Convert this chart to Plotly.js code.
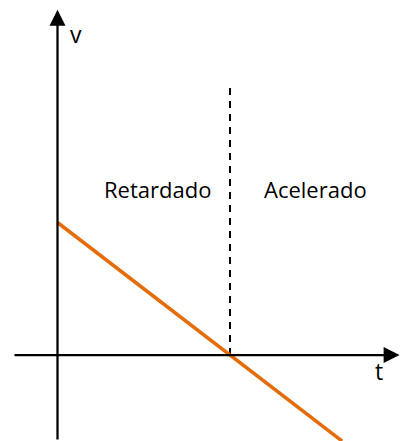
<!DOCTYPE html>
<html>
<head>
<meta charset="utf-8">
<script src="https://cdn.plot.ly/plotly-3.0.1.min.js"></script>
<style>
html,body{margin:0;padding:0;background:#fff;}
#chart{width:400px;height:441px;}
</style>
</head>
<body>
<div id="chart"></div>
<script>
// Data (schematic units): velocity decreases linearly, crossing zero at t = 1
var tValues = [0, 1.65];
var vValues = [1, -0.65];
var tStop = 1;            // instant where v = 0 (boundary between phases)
var regionLabels = ["Retardado", "Acelerado"];
var axisLabels = {t: "t", v: "v"};

var xRange = [-0.3333, 1.9855];
var yRange = [-0.649, 2.679];

var fontFam = "'Open Sans', 'Noto Sans', sans-serif";

var traces = [{
  x: tValues,
  y: vValues,
  mode: 'lines',
  type: 'scatter',
  line: {color: '#E46C0A', width: 3.5},
  hoverinfo: 'skip'
}];

var layout = {
  width: 400,
  height: 441,
  margin: {l: 0, r: 0, t: 0, b: 0, pad: 0},
  paper_bgcolor: '#ffffff',
  plot_bgcolor: '#ffffff',
  showlegend: false,
  xaxis: {range: xRange, visible: false, fixedrange: true},
  yaxis: {range: yRange, visible: false, fixedrange: true},
  shapes: [{
    type: 'line', xref: 'x', yref: 'y',
    x0: tStop, x1: tStop, y0: 0, y1: 2.02,
    line: {color: '#000', width: 2, dash: '7px,6px'},
    layer: 'below'
  }],
  annotations: [
    // vertical axis (v) with arrow
    {x: 0, y: 2.605, ax: 0, ay: yRange[0], xref: 'x', yref: 'y', axref: 'x', ayref: 'y',
     text: '', showarrow: true, arrowhead: 2, arrowsize: 1.42, arrowwidth: 2.25, arrowcolor: '#000', standoff: 0},
    // horizontal axis (t) with arrow
    {x: 1.983, y: 0, ax: -0.258, ay: 0, xref: 'x', yref: 'y', axref: 'x', ayref: 'y',
     text: '', showarrow: true, arrowhead: 2, arrowsize: 1.42, arrowwidth: 2.25, arrowcolor: '#000', standoff: 0},
    {x: 0.107, y: 2.42, xref: 'x', yref: 'y', text: axisLabels.v, showarrow: false,
     font: {family: fontFam, size: 23, color: '#000'}},
    {x: 1.864, y: -0.12, xref: 'x', yref: 'y', text: axisLabels.t, showarrow: false,
     font: {family: fontFam, size: 23, color: '#000'}},
    {x: 0.577, y: 1.253, xref: 'x', yref: 'y', text: regionLabels[0], showarrow: false,
     font: {family: fontFam, size: 22, color: '#000'}},
    {x: 1.493, y: 1.253, xref: 'x', yref: 'y', text: regionLabels[1], showarrow: false,
     font: {family: fontFam, size: 22, color: '#000'}}
  ]
};

Plotly.newPlot('chart', traces, layout, {displayModeBar: false, staticPlot: true});
</script>
</body>
</html>
